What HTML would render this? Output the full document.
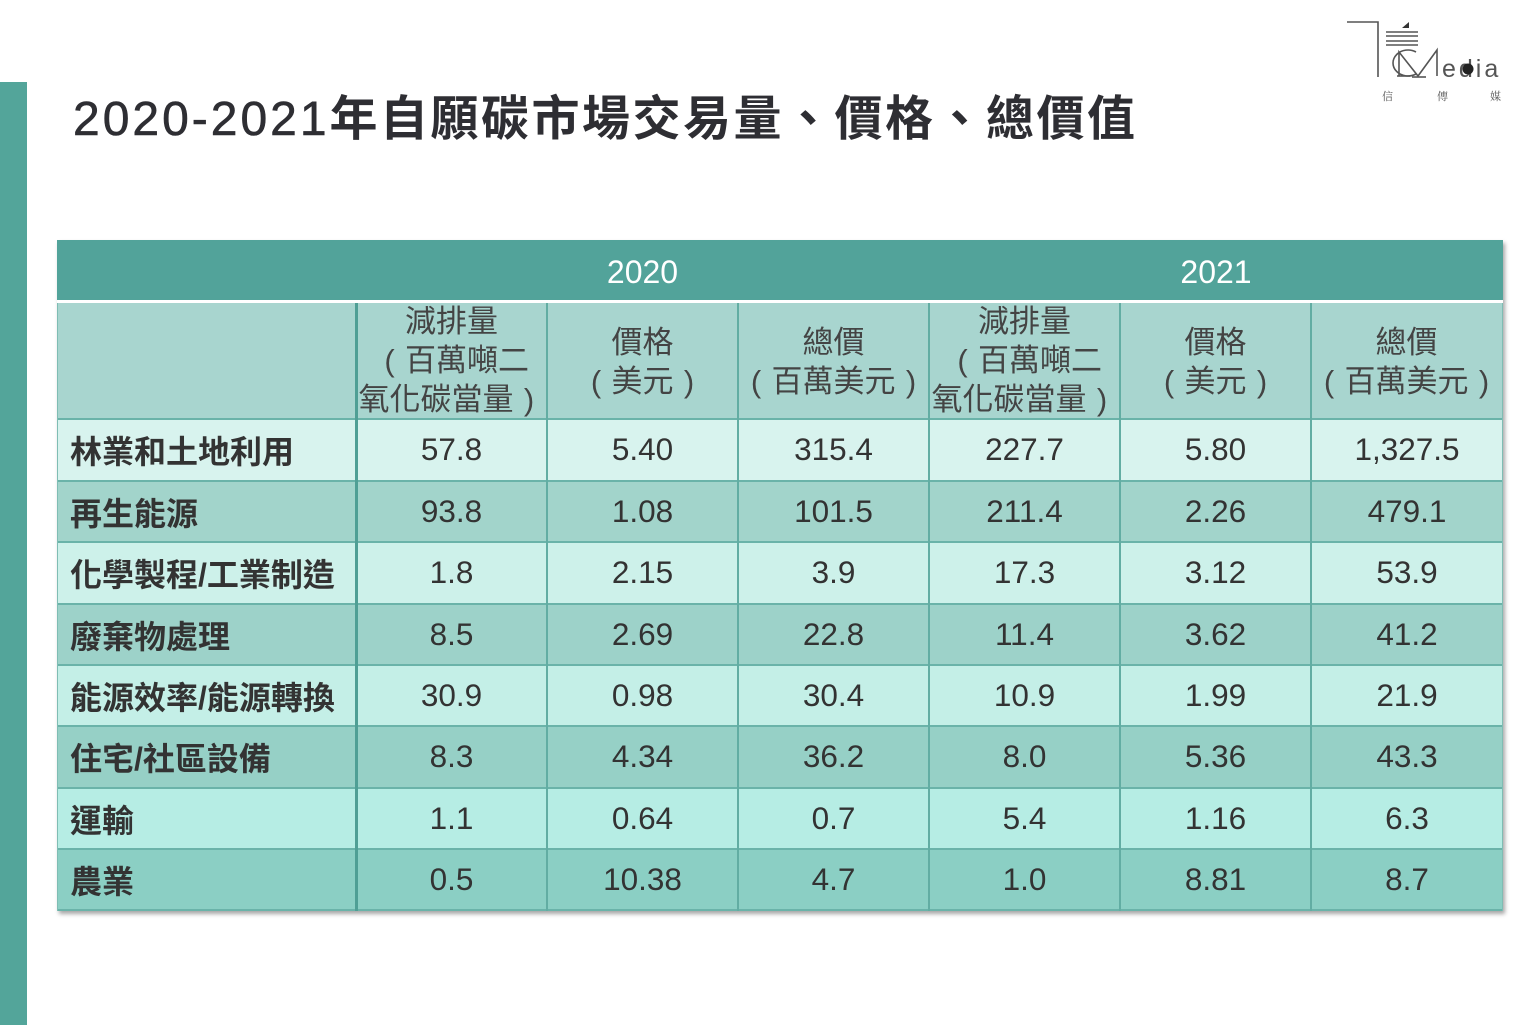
<!DOCTYPE html>
<html>
<head>
<meta charset="utf-8">
<style>
html,body{margin:0;padding:0;}
body{width:1536px;height:1025px;background:#ffffff;position:relative;overflow:hidden;font-family:"Liberation Sans","Noto Sans CJK TC",sans-serif;}
.abs{position:absolute;}
.bar{left:0;top:82px;width:27px;height:943px;background:#53a59a;}
.title{left:73px;top:88px;font-size:48px;font-weight:700;color:#2e2e33;white-space:nowrap;line-height:64px;font-family:"Liberation Sans","Noto Sans CJK TC",sans-serif;}
.title .lat{letter-spacing:3px;font-weight:400;-webkit-text-stroke:0.6px #2e2e33;}
.title .cjk{letter-spacing:2.5px;}
.tbl{left:57px;top:240px;width:1446px;height:671px;box-shadow:2px 3px 4px rgba(0,0,0,0.35);background:#a8d5cf;}
.top{left:57px;top:240px;width:1446px;height:60px;background:#52a39a;}
.wline{left:57px;top:300px;width:1446px;height:3px;background:#ffffff;}
.hdr{left:57px;top:303px;width:1446px;height:116px;background:#a8d5cf;}
.yr{top:242px;height:60px;color:#fff;font-size:32px;line-height:60px;text-align:center;font-family:"Liberation Sans","Noto Sans CJK TC",sans-serif;}
.row{left:57px;width:1446px;}
.hl{left:57px;width:1446px;height:2px;background:#6ab3a9;}
.vl{top:303px;height:608px;width:2px;background:#62ada3;}
.cell{height:61px;display:flex;align-items:center;justify-content:center;font-size:31.5px;color:#333;}
.lab{height:61px;display:flex;align-items:center;font-size:32px;font-weight:700;color:#333;left:70px;font-family:"Liberation Sans","Noto Sans CJK TC",sans-serif;}
.hc{width:191px;text-align:center;font-size:31px;color:#444;line-height:39px;white-space:nowrap;font-family:"Liberation Sans","Noto Sans CJK TC",sans-serif;}
.hc .p{display:inline-block;width:31px;text-align:center;font-family:"Liberation Sans",sans-serif;font-weight:300;}
.hc .wide{margin-left:-30px;margin-right:-30px;}
</style>
</head>
<body>
<div class="abs bar"></div>
<div class="abs title"><span class="lat">2020-2021</span><span class="cjk">年自願碳市場交易量、價格、總價值</span></div>

<!-- logo -->
<svg class="abs" style="left:1340px;top:15px" width="196" height="95" viewBox="1340 15 196 95">
  <g stroke="#555" fill="none" stroke-width="1.6">
    <polyline points="1347,22 1378,22 1378,77"/>
    <line x1="1386" y1="32" x2="1418" y2="32"/>
    <line x1="1386" y1="36" x2="1418" y2="36"/>
    <line x1="1386" y1="41" x2="1418" y2="41"/>
    <line x1="1386" y1="45" x2="1418" y2="45"/>
    <path d="M1416,52 A15,13 0 1 0 1416,74"/>
    <polyline points="1399,76 1399,52 1418,76 1437,50 1437,76"/>
    <line x1="1397" y1="76" x2="1410" y2="76"/>
    <line x1="1412" y1="77" x2="1426" y2="77"/>
  </g>
  <path d="M1402,28 L1409,22 L1409,28 Z" fill="#333"/>
  <text x="1442" y="77" font-size="25" fill="#555" font-family="Liberation Sans, sans-serif" letter-spacing="3">edia</text>
  <circle cx="1468" cy="69" r="5.5" fill="#222"/>
  <text x="1382" y="100" font-size="11" fill="#555" font-family="Liberation Serif, Noto Serif CJK SC, serif">信</text>
  <text x="1437" y="100" font-size="11" fill="#555" font-family="Liberation Serif, Noto Serif CJK SC, serif">傳</text>
  <text x="1490" y="100" font-size="11" fill="#555" font-family="Liberation Serif, Noto Serif CJK SC, serif">媒</text>
</svg>

<div class="abs tbl"></div>
<div class="abs top"></div>
<div class="abs wline"></div>
<div class="abs hdr"></div>
<div class="abs yr" style="left:356px;width:573px;">2020</div>
<div class="abs yr" style="left:929px;width:574px;">2021</div>

<!-- row backgrounds -->
<div class="abs row" style="top:419px;height:62px;background:#d8f3ee"></div>
<div class="abs row" style="top:481px;height:61px;background:#a2d4cb"></div>
<div class="abs row" style="top:542px;height:62px;background:#cdf1ea"></div>
<div class="abs row" style="top:604px;height:61px;background:#9dd2c9"></div>
<div class="abs row" style="top:665px;height:61px;background:#c4efe7"></div>
<div class="abs row" style="top:726px;height:62px;background:#96d0c6"></div>
<div class="abs row" style="top:788px;height:61px;background:#b6ede4"></div>
<div class="abs row" style="top:849px;height:62px;background:#8bcfc4"></div>

<!-- horizontal lines -->
<div class="abs hl" style="top:418px"></div>
<div class="abs hl" style="top:480px"></div>
<div class="abs hl" style="top:541px"></div>
<div class="abs hl" style="top:603px"></div>
<div class="abs hl" style="top:664px"></div>
<div class="abs hl" style="top:725px"></div>
<div class="abs hl" style="top:787px"></div>
<div class="abs hl" style="top:848px"></div>
<div class="abs hl" style="top:909px"></div>

<!-- vertical lines -->
<div class="abs vl" style="left:355px;width:3px;background:#4f9f95"></div>
<div class="abs vl" style="left:546px"></div>
<div class="abs vl" style="left:737px"></div>
<div class="abs vl" style="left:928px"></div>
<div class="abs vl" style="left:1119px"></div>
<div class="abs vl" style="left:1310px"></div>
<div class="abs vl" style="left:57px;width:1px;background:#7fbdb4"></div>
<div class="abs vl" style="left:1502px;width:1px;background:#7fbdb4"></div>

<!-- header cells -->
<div class="abs hc" style="left:356px;top:302px">減排量<br><span class="p">(</span>百萬噸二<br><span class="wide">氧化碳當量<span class="p">)</span></span></div>
<div class="abs hc" style="left:547px;top:323px">價格<br><span class="p">(</span>美元<span class="p">)</span></div>
<div class="abs hc" style="left:738px;top:323px">總價<br><span class="wide"><span class="p">(</span>百萬美元<span class="p">)</span></span></div>
<div class="abs hc" style="left:929px;top:302px">減排量<br><span class="p">(</span>百萬噸二<br><span class="wide">氧化碳當量<span class="p">)</span></span></div>
<div class="abs hc" style="left:1120px;top:323px">價格<br><span class="p">(</span>美元<span class="p">)</span></div>
<div class="abs hc" style="left:1311px;top:323px">總價<br><span class="wide"><span class="p">(</span>百萬美元<span class="p">)</span></span></div>

<!-- labels -->
<div class="abs lab" style="top:419px">林業和土地利用</div>
<div class="abs lab" style="top:481px">再生能源</div>
<div class="abs lab" style="top:542px">化學製程/工業制造</div>
<div class="abs lab" style="top:604px">廢棄物處理</div>
<div class="abs lab" style="top:665px">能源效率/能源轉換</div>
<div class="abs lab" style="top:726px">住宅/社區設備</div>
<div class="abs lab" style="top:788px">運輸</div>
<div class="abs lab" style="top:849px">農業</div>

<!-- data -->
<div class="abs cell" style="left:356px;top:419px;width:191px">57.8</div>
<div class="abs cell" style="left:547px;top:419px;width:191px">5.40</div>
<div class="abs cell" style="left:738px;top:419px;width:191px">315.4</div>
<div class="abs cell" style="left:929px;top:419px;width:191px">227.7</div>
<div class="abs cell" style="left:1120px;top:419px;width:191px">5.80</div>
<div class="abs cell" style="left:1311px;top:419px;width:192px">1,327.5</div>

<div class="abs cell" style="left:356px;top:481px;width:191px">93.8</div>
<div class="abs cell" style="left:547px;top:481px;width:191px">1.08</div>
<div class="abs cell" style="left:738px;top:481px;width:191px">101.5</div>
<div class="abs cell" style="left:929px;top:481px;width:191px">211.4</div>
<div class="abs cell" style="left:1120px;top:481px;width:191px">2.26</div>
<div class="abs cell" style="left:1311px;top:481px;width:192px">479.1</div>

<div class="abs cell" style="left:356px;top:542px;width:191px">1.8</div>
<div class="abs cell" style="left:547px;top:542px;width:191px">2.15</div>
<div class="abs cell" style="left:738px;top:542px;width:191px">3.9</div>
<div class="abs cell" style="left:929px;top:542px;width:191px">17.3</div>
<div class="abs cell" style="left:1120px;top:542px;width:191px">3.12</div>
<div class="abs cell" style="left:1311px;top:542px;width:192px">53.9</div>

<div class="abs cell" style="left:356px;top:604px;width:191px">8.5</div>
<div class="abs cell" style="left:547px;top:604px;width:191px">2.69</div>
<div class="abs cell" style="left:738px;top:604px;width:191px">22.8</div>
<div class="abs cell" style="left:929px;top:604px;width:191px">11.4</div>
<div class="abs cell" style="left:1120px;top:604px;width:191px">3.62</div>
<div class="abs cell" style="left:1311px;top:604px;width:192px">41.2</div>

<div class="abs cell" style="left:356px;top:665px;width:191px">30.9</div>
<div class="abs cell" style="left:547px;top:665px;width:191px">0.98</div>
<div class="abs cell" style="left:738px;top:665px;width:191px">30.4</div>
<div class="abs cell" style="left:929px;top:665px;width:191px">10.9</div>
<div class="abs cell" style="left:1120px;top:665px;width:191px">1.99</div>
<div class="abs cell" style="left:1311px;top:665px;width:192px">21.9</div>

<div class="abs cell" style="left:356px;top:726px;width:191px">8.3</div>
<div class="abs cell" style="left:547px;top:726px;width:191px">4.34</div>
<div class="abs cell" style="left:738px;top:726px;width:191px">36.2</div>
<div class="abs cell" style="left:929px;top:726px;width:191px">8.0</div>
<div class="abs cell" style="left:1120px;top:726px;width:191px">5.36</div>
<div class="abs cell" style="left:1311px;top:726px;width:192px">43.3</div>

<div class="abs cell" style="left:356px;top:788px;width:191px">1.1</div>
<div class="abs cell" style="left:547px;top:788px;width:191px">0.64</div>
<div class="abs cell" style="left:738px;top:788px;width:191px">0.7</div>
<div class="abs cell" style="left:929px;top:788px;width:191px">5.4</div>
<div class="abs cell" style="left:1120px;top:788px;width:191px">1.16</div>
<div class="abs cell" style="left:1311px;top:788px;width:192px">6.3</div>

<div class="abs cell" style="left:356px;top:849px;width:191px">0.5</div>
<div class="abs cell" style="left:547px;top:849px;width:191px">10.38</div>
<div class="abs cell" style="left:738px;top:849px;width:191px">4.7</div>
<div class="abs cell" style="left:929px;top:849px;width:191px">1.0</div>
<div class="abs cell" style="left:1120px;top:849px;width:191px">8.81</div>
<div class="abs cell" style="left:1311px;top:849px;width:192px">8.7</div>
</body>
</html>
